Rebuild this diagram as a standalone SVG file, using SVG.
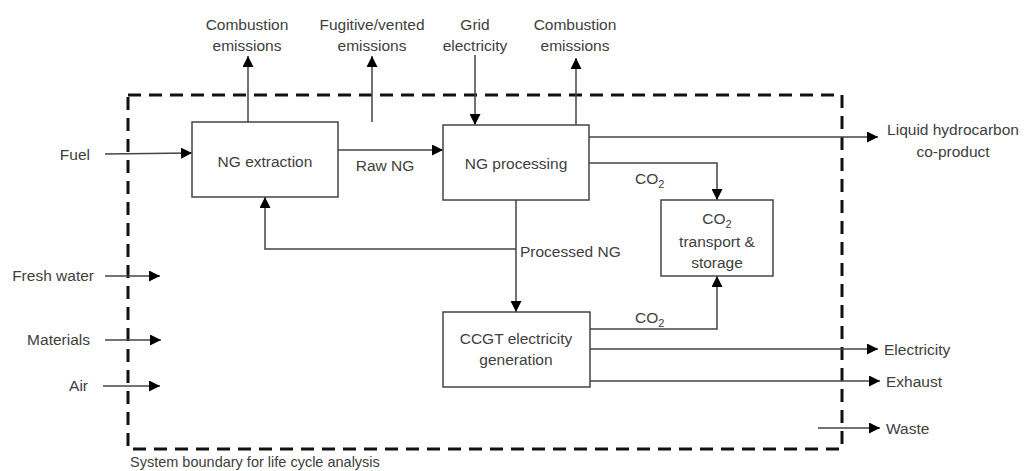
<svg xmlns="http://www.w3.org/2000/svg" width="1025" height="471" viewBox="0 0 1025 471">
<style>
text{font-family:"Liberation Sans",Arial,sans-serif;font-size:15.5px;fill:#404040}
.c{text-anchor:middle}
.e{text-anchor:end}
.box{fill:#fff;stroke:#444;stroke-width:1.5}
.ln{fill:none;stroke:#444;stroke-width:1.5}
.ar{marker-end:url(#ah)}
.bd{fill:none;stroke:#111;stroke-width:3;stroke-dasharray:13 8}
</style>
<defs>
<marker id="ah" viewBox="0 0 10 10" refX="10" refY="5" markerWidth="11" markerHeight="11" markerUnits="userSpaceOnUse" orient="auto">
<path d="M0,0 L10,5 L0,10 Z" fill="#000"/>
</marker>
</defs>
<rect id="boundary" class="bd" x="128" y="95" width="714" height="354"/>
<text x="130" y="467" style="font-size:14.5px">System boundary  for life cycle analysis</text>
<g id="connectors">
<line class="ln ar" x1="248" y1="122" x2="248" y2="56"/>
<line class="ln ar" x1="372" y1="122" x2="372" y2="56"/>
<line class="ln ar" x1="475" y1="55" x2="475" y2="125"/>
<line class="ln ar" x1="576" y1="125" x2="576" y2="58"/>
<line class="ln ar" x1="105" y1="154" x2="192" y2="153"/>
<line class="ln ar" x1="338" y1="150" x2="443" y2="150"/>
<line class="ln ar" x1="589" y1="137" x2="878" y2="137"/>
<polyline class="ln ar" points="589,163 717,163 717,200"/>
<line class="ln ar" x1="516" y1="200" x2="516" y2="312"/>
<polyline class="ln ar" points="516,249 265,249 265,197"/>
<polyline class="ln ar" points="590,329 717,329 717,276"/>
<line class="ln ar" x1="590" y1="349" x2="878" y2="349"/>
<line class="ln ar" x1="590" y1="381" x2="880" y2="381"/>
<line class="ln ar" x1="818" y1="428" x2="880" y2="428"/>
<line class="ln ar" x1="105" y1="276" x2="160" y2="276"/>
<line class="ln ar" x1="105" y1="340" x2="161" y2="340"/>
<line class="ln ar" x1="103" y1="386" x2="160" y2="386"/>
</g>
<g id="labels">
<text class="c" x="247" y="30">Combustion</text>
<text class="c" x="247" y="51">emissions</text>
<text class="c" x="372" y="30">Fugitive/vented</text>
<text class="c" x="372" y="51">emissions</text>
<text class="c" x="475" y="30">Grid</text>
<text class="c" x="475" y="51">electricity</text>
<text class="c" x="575" y="30">Combustion</text>
<text class="c" x="575" y="51">emissions</text>
<text class="e" x="90" y="160">Fuel</text>
<text class="c" x="385" y="171">Raw NG</text>
<text class="c" x="953" y="135">Liquid hydrocarbon</text>
<text class="c" x="953" y="157">co-product</text>
<text x="635" y="184">CO<tspan dy="4" style="font-size:11px">2</tspan></text>
<text x="520" y="257">Processed NG</text>
<text x="635" y="323">CO<tspan dy="4" style="font-size:11px">2</tspan></text>
<text x="884" y="355">Electricity</text>
<text x="886" y="387">Exhaust</text>
<text x="886" y="434">Waste</text>
<text class="e" x="94" y="281">Fresh water</text>
<text class="e" x="90" y="345">Materials</text>
<text class="e" x="88" y="391">Air</text>
</g>
<g id="ng-extraction">
<rect class="box" x="192" y="122" width="146" height="75"/>
<text class="c" x="265" y="167">NG extraction</text>
</g>
<g id="ng-processing">
<rect class="box" x="443" y="125" width="146" height="75"/>
<text class="c" x="516" y="169">NG processing</text>
</g>
<g id="co2-storage">
<rect class="box" x="661" y="200" width="112" height="76"/>
<text class="c" x="717" y="224">CO<tspan dy="4" style="font-size:11px">2</tspan></text>
<text class="c" x="717" y="247">transport &amp;</text>
<text class="c" x="717" y="268">storage</text>
</g>
<g id="ccgt">
<rect class="box" x="443" y="312" width="147" height="75"/>
<text class="c" x="516" y="344">CCGT electricity</text>
<text class="c" x="516" y="365">generation</text>
</g>
</svg>
